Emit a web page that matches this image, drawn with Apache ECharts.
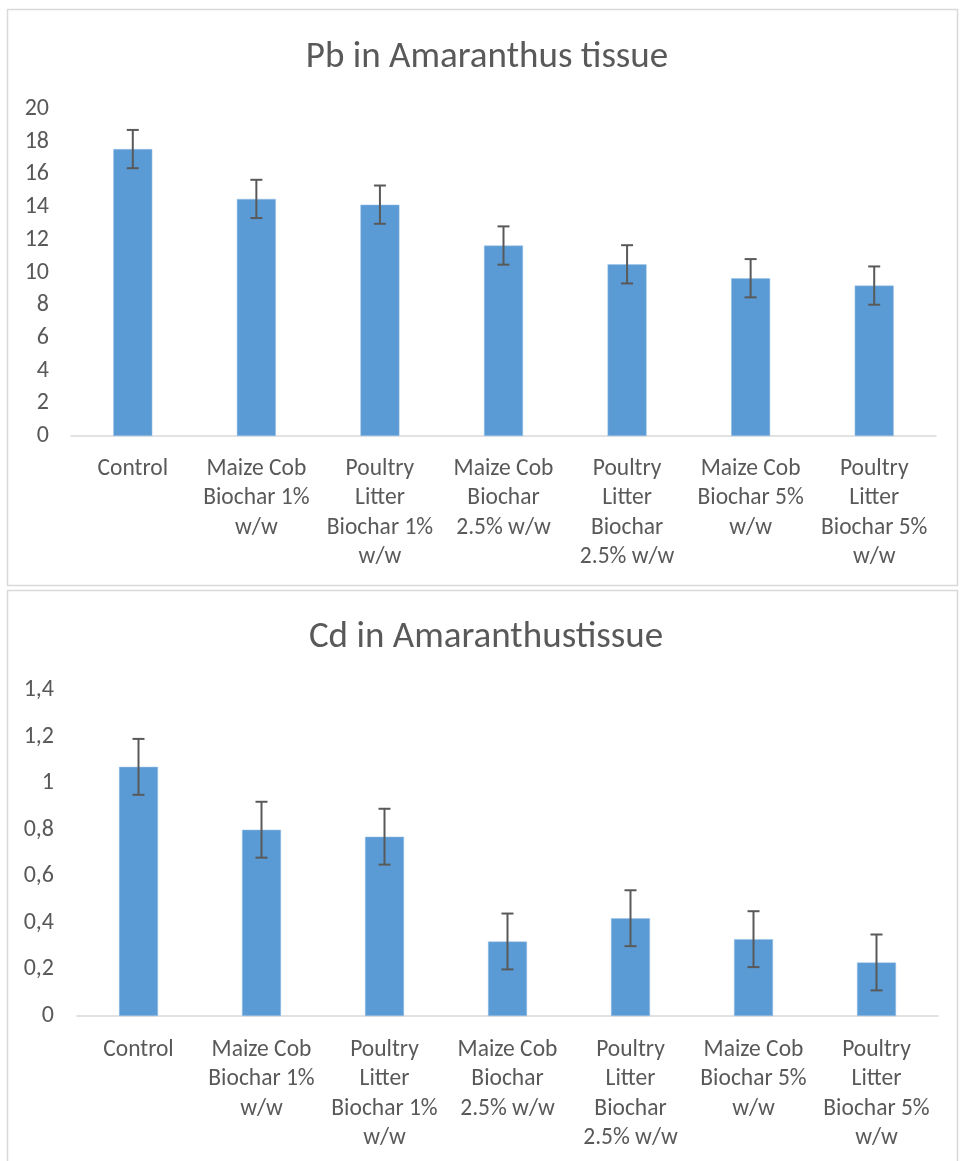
<!DOCTYPE html>
<html>
<head>
<meta charset="utf-8">
<script src="https://cdn.jsdelivr.net/npm/echarts@6/dist/echarts.min.js"></script>
<style>
html,body{margin:0;padding:0;background:#fff;}
#chart{width:960px;height:1161px;}
</style>
</head>
<body>
<div id="chart"></div>
<script>
// ---- data ----
const categories = [
  'Control',
  'Maize Cob\nBiochar 1%\nw/w',
  'Poultry\nLitter\nBiochar 1%\nw/w',
  'Maize Cob\nBiochar\n2.5% w/w',
  'Poultry\nLitter\nBiochar\n2.5% w/w',
  'Maize Cob\nBiochar 5%\nw/w',
  'Poultry\nLitter\nBiochar 5%\nw/w'
];
const pbTitle = 'Pb in Amaranthus tissue';
const cdTitle = 'Cd in Amaranthustissue';
const pbValues = [17.55, 14.5, 14.15, 11.65, 10.5, 9.65, 9.2];
const pbErrors = [1.17, 1.17, 1.17, 1.17, 1.17, 1.17, 1.17];
const cdValues = [1.07, 0.80, 0.77, 0.32, 0.42, 0.33, 0.23];
const cdErrors = [0.12, 0.12, 0.12, 0.12, 0.12, 0.12, 0.12];

const FONT = "Carlito, 'Open Sans', sans-serif";
const TXT = '#595959';
const BAR = '#5b9bd5';

function errData(vals, errs) {
  return vals.map((v, i) => [i, v - errs[i], v + errs[i]]);
}

function errorSeries(xi, yi, vals, errs) {
  return {
    type: 'custom',
    xAxisIndex: xi, yAxisIndex: yi,
    z: 5,
    data: errData(vals, errs),
    renderItem: function (params, api) {
      const x = api.value(0);
      const lo = api.coord([x, api.value(1)]);
      const hi = api.coord([x, api.value(2)]);
      const cap = 6;
      const st = { stroke: '#595959', lineWidth: 2 };
      return {
        type: 'group',
        children: [
          { type: 'line', shape: { x1: lo[0], y1: lo[1], x2: hi[0], y2: hi[1] }, style: st },
          { type: 'line', shape: { x1: hi[0] - cap, y1: hi[1], x2: hi[0] + cap, y2: hi[1] }, style: st },
          { type: 'line', shape: { x1: lo[0] - cap, y1: lo[1], x2: lo[0] + cap, y2: lo[1] }, style: st }
        ]
      };
    }
  };
}

const xAxisCommon = {
  type: 'category',
  data: categories,
  axisLine: { lineStyle: { color: '#d9d9d9', width: 1.5 } },
  axisTick: { show: false },
  axisLabel: { color: TXT, fontFamily: FONT, fontSize: 23.5, lineHeight: 29.5, margin: 18, interval: 0 }
};
const yAxisCommon = {
  type: 'value',
  min: 0,
  axisLine: { show: false },
  axisTick: { show: false },
  splitLine: { show: false },
  axisLabel: { color: TXT, fontFamily: FONT, fontSize: 24 }
};

const chart = echarts.init(document.getElementById('chart'), null, { renderer: 'canvas' });
chart.setOption({
  animation: false,
  backgroundColor: '#fff',
  graphic: [
    { type: 'rect', shape: { x: 7.5, y: 9.5, width: 950, height: 576 }, style: { fill: 'none', stroke: '#d9d9d9', lineWidth: 1.5 }, silent: true },
    { type: 'rect', shape: { x: 7.5, y: 590.5, width: 950, height: 580 }, style: { fill: 'none', stroke: '#d9d9d9', lineWidth: 1.5 }, silent: true }
  ],
  title: [
    { text: pbTitle, left: 482, top: 34, textAlign: 'center', textStyle: { color: TXT, fontFamily: FONT, fontSize: 37, fontWeight: 'normal' } },
    { text: cdTitle, left: 481, top: 614, textAlign: 'center', textStyle: { color: TXT, fontFamily: FONT, fontSize: 37, fontWeight: 'normal' } }
  ],
  grid: [
    { left: 71, right: 24, top: 109, height: 327, containLabel: false },
    { left: 77, right: 22, top: 690, height: 326, containLabel: false }
  ],
  xAxis: [
    Object.assign({}, xAxisCommon, { gridIndex: 0 }),
    Object.assign({}, xAxisCommon, { gridIndex: 1, axisLabel: Object.assign({}, xAxisCommon.axisLabel, { margin: 19 }) })
  ],
  yAxis: [
    Object.assign({}, yAxisCommon, { gridIndex: 0, max: 20, interval: 2, axisLabel: Object.assign({}, yAxisCommon.axisLabel, { margin: 22 }) }),
    Object.assign({}, yAxisCommon, { gridIndex: 1, max: 1.4, interval: 0.2,
      axisLabel: Object.assign({}, yAxisCommon.axisLabel, { margin: 23, formatter: v => String(+v.toFixed(1)).replace('.', ',') }) })
  ],
  series: [
    { type: 'bar', xAxisIndex: 0, yAxisIndex: 0, data: pbValues, barWidth: 39, itemStyle: { color: BAR, borderColor: '#9dc3e6', borderWidth: 0.5 } },
    errorSeries(0, 0, pbValues, pbErrors),
    { type: 'bar', xAxisIndex: 1, yAxisIndex: 1, data: cdValues, barWidth: 39, itemStyle: { color: BAR, borderColor: '#9dc3e6', borderWidth: 0.5 } },
    errorSeries(1, 1, cdValues, cdErrors)
  ]
});
</script>
</body>
</html>
